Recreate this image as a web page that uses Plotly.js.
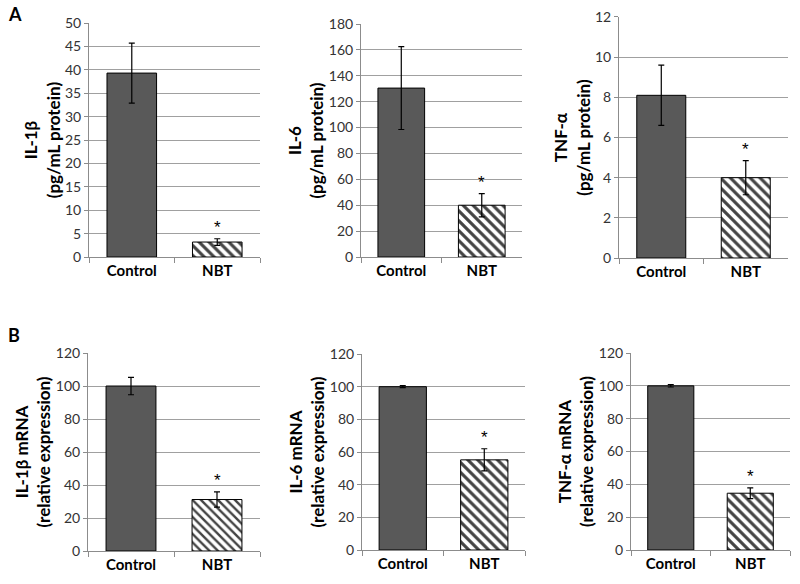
<!DOCTYPE html>
<html>
<head>
<meta charset="utf-8">
<script src="https://cdn.plot.ly/plotly-3.0.1.min.js"></script>
<style>html,body{margin:0;padding:0;background:#fff;}#chart{width:800px;height:584px;}</style>
</head>
<body>
<div id="chart"></div>
<script>
// ---- data ----
var categories = ['Control', 'NBT'];

var il1bProtein = [39.3, 3.2];
var il1bProteinErr = [6.4, 0.7];
var il6Protein = [130.5, 40];
var il6ProteinErr = [32, 9];
var tnfProtein = [8.1, 4.0];
var tnfProteinErr = [1.5, 0.85];

var il1bMrna = [100, 31.2];
var il1bMrnaErr = [5.3, 4.6];
var il6Mrna = [100, 55.2];
var il6MrnaErr = [0.6, 6.8];
var tnfMrna = [100, 34.6];
var tnfMrnaErr = [0.7, 3.3];

var panelTitles = [
  'IL-1β<br>(pg/mL protein)',
  'IL-6<br>(pg/mL protein)',
  'TNF-α<br>(pg/mL protein)',
  'IL-1β mRNA<br>(relative expression)',
  'IL-6 mRNA<br>(relative expression)',
  'TNF-α mRNA<br>(relative expression)'
];
var yMax = [50, 180, 12, 120, 120, 120];
var yStep = [5, 20, 2, 20, 20, 20];
var panelLetters = ['A', 'B'];

// ---- layout geometry ----
var FONT = 'Lato, "Open Sans", sans-serif';
var xDomains = [[0.1113, 0.325], [0.4513, 0.6525], [0.7738, 0.985],
                [0.11, 0.325], [0.4525, 0.6563], [0.7888, 0.9875]];
var yDomains = [[0.5599, 0.9606], [0.5599, 0.9589], [0.5582, 0.9709],
                [0.0565, 0.3955], [0.0582, 0.3938], [0.0582, 0.3955]];
var series = [il1bProtein, il6Protein, tnfProtein, il1bMrna, il6Mrna, tnfMrna];
var errors = [il1bProteinErr, il6ProteinErr, tnfProteinErr, il1bMrnaErr, il6MrnaErr, tnfMrnaErr];
var hatchColor = ['#000', '#000', '#000', '#5a5a5a', '#000', '#000'];
var hatchSize = [7, 7, 7, 6, 7, 7];
var hatchSolid = [0.45, 0.45, 0.45, 0.4, 0.45, 0.45];

var traces = [];
var layout = {
  width: 800, height: 584,
  margin: {l: 0, r: 0, t: 0, b: 0},
  paper_bgcolor: '#fff', plot_bgcolor: '#fff',
  showlegend: false,
  bargap: 0.42,
  font: {family: FONT, color: '#000'},
  annotations: []
};

for (var i = 0; i < 6; i++) {
  var sfx = i === 0 ? '' : String(i + 1);
  traces.push({
    type: 'bar',
    x: categories,
    y: series[i],
    xaxis: 'x' + sfx, yaxis: 'y' + sfx,
    marker: {
      color: ['#595959', '#ffffff'],
      line: {color: '#000', width: 1},
      pattern: {
        shape: ['', '\\'],
        fgcolor: hatchColor[i],
        fgopacity: 1,
        size: hatchSize[i],
        solidity: hatchSolid[i],
        fillmode: 'overlay'
      }
    },
    error_y: {type: 'data', array: errors[i], visible: true, color: '#000', thickness: 1.2, width: 3},
    hoverinfo: 'none'
  });
  layout['xaxis' + sfx] = {
    domain: xDomains[i], anchor: 'y' + sfx, type: 'category',
    range: [-0.5, 1.5], showgrid: false, zeroline: false,
    showline: true, linecolor: '#8c8c8c', linewidth: 1,
    ticks: 'outside', tickson: 'boundaries', ticklen: 5, tickcolor: '#8c8c8c',
    tickfont: {family: FONT, size: 15, color: '#000', weight: 'bold'},
    fixedrange: true
  };
  layout['yaxis' + sfx] = {
    domain: yDomains[i], anchor: 'x' + sfx,
    range: [0, yMax[i]], dtick: yStep[i], tick0: 0,
    showgrid: true, gridcolor: '#a0a0a0', gridwidth: 1, zeroline: false,
    showline: true, linecolor: '#8c8c8c', linewidth: 1,
    ticks: 'outside', ticklen: 4, tickcolor: '#8c8c8c',
    tickfont: {family: FONT, size: 14, color: '#333'},
    title: {text: panelTitles[i], standoff: 0, font: {family: FONT, size: 17, color: '#000', weight: 'bold'}},
    fixedrange: true
  };
  layout.annotations.push({
    xref: 'x' + sfx, yref: 'y' + sfx,
    x: categories[1], y: series[i][1] + errors[i][1],
    text: '*', showarrow: false, yanchor: 'bottom', yshift: 0,
    font: {family: '"Liberation Sans", Arial, sans-serif', size: 17, color: '#000000'}
  });
}

layout.annotations.push({xref: 'paper', yref: 'paper', x: 15 / 800, y: 1 - 14 / 584,
  text: panelLetters[0], showarrow: false, xanchor: 'center', yanchor: 'middle',
  font: {family: FONT, size: 18, color: '#000', weight: 'bold'}});
layout.annotations.push({xref: 'paper', yref: 'paper', x: 14 / 800, y: 1 - 335 / 584,
  text: panelLetters[1], showarrow: false, xanchor: 'center', yanchor: 'middle',
  font: {family: FONT, size: 18, color: '#000', weight: 'bold'}});

Plotly.newPlot('chart', traces, layout, {staticPlot: true, displayModeBar: false});
</script>
</body>
</html>
